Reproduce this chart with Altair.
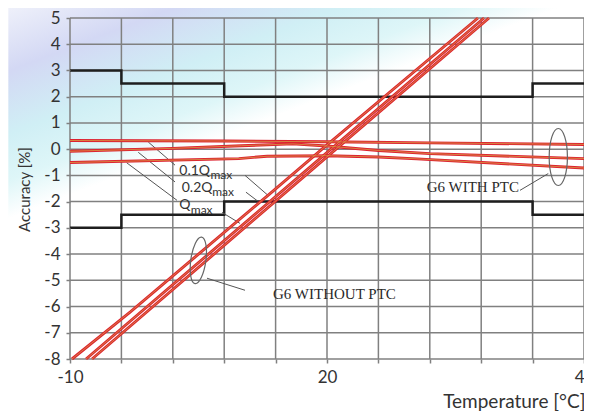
import altair as alt
import pandas as pd

# ---------------- data ----------------
# x axis in °C as labelled; the axis is piecewise: -10..20 over 5 grid cells, 20..40 over 5 cells
x_grid = [-10, -4, 2, 8, 14, 20, 24, 28, 32, 36, 40]
x_labelled = [-10, 20, 40]
y_ticks = list(range(-8, 6))

# maximum permissible error limits (step lines)
limit_x = [-10, -4, 8, 36, 40]
limit_upper = [3, 2.5, 2, 2.5, 2.5]
limit_lower = [-3, -2.5, -2, -2.5, -2.5]

# G6 with PTC
ptc_01_x = [-10, 8, 20, 28, 40]
ptc_01_y = [0.33, 0.31, 0.28, 0.24, 0.18]
ptc_02_x = [-10, 2, 10, 16, 20, 24, 28, 40]
ptc_02_y = [-0.08, 0.03, 0.13, 0.20, 0.12, -0.05, -0.17, -0.36]
ptc_q_x = [-10, 9.7, 13, 20, 24, 27, 40]
ptc_q_y = [-0.51, -0.36, -0.27, -0.25, -0.30, -0.37, -0.72]

# G6 without PTC
nptc_01_x = [-9.77, -2.95, 13.11, 19.42, 31.75]
nptc_01_y = [-8, -6.2, -1.76, 0, 5]
nptc_02_x = [-8.13, 20.31, 32.22]
nptc_02_y = [-8, 0, 5]
nptc_q_x = [-7.43, 20.7, 32.61]
nptc_q_y = [-8, 0, 5]

# flow-rate labels  (main text + subscript)
flow_text = ["0.1Q", "0.2Q", "Q"]
flow_x = [2.76, 3.04, 2.76]
flow_y = [-0.99, -1.62, -2.29]
sub_text = ["max", "max", "max"]
sub_x = [6.4, 6.6, 4.1]
sub_y = [-1.15, -1.79, -2.46]

# leader lines (x, y, x2, y2)
lead_x = [-0.86, -2.03, -3.38, 10.43, 10.54, 7.74, 37.22, 5.99]
lead_y = [0.27, -0.12, -0.52, -1.0, -1.64, -2.41, -0.93, -4.92]
lead_x2 = [2.26, 2.26, 2.49, 13.11, 11.95, 9.84, 35.02, 10.43]
lead_y2 = [-0.61, -1.25, -1.95, -1.76, -1.99, -2.83, -1.57, -5.38]

# ellipses marking the curve groups
ell_x = [38.0, 4.98]
ell_y = [-0.30, -4.24]
ell_size = [3249, 2209]
ell_angle = [0, 8]

group_text = ["G6 WITH PTC", "G6 WITHOUT PTC"]
group_x = [34.94, 13.7]
group_y = [-1.44, -5.53]
group_align = ["right", "left"]

# ---------------- chart ----------------
W, H = 514, 341
LABEL_FONT = "Lato"
TXT = "#333333"
GRID = "#808080"


def frame(name, xs, ys):
    return pd.DataFrame({"series": name, "t": xs, "v": ys, "i": list(range(len(xs)))})


xscale = alt.Scale(domain=[-10, 20, 40], range=[0, W / 2, W], nice=False, zero=False)
yscale = alt.Scale(domain=[-8, 5], nice=False, zero=False)

xaxis = alt.Axis(
    values=x_grid,
    labelExpr="(datum.value == -10 || datum.value == 20 || datum.value == 40) ? '' + datum.value : ''",
    grid=False, domain=False, tickColor=GRID, tickWidth=1.5, tickSize=4,
    labelFont=LABEL_FONT, labelFontSize=17, labelColor=TXT, labelPadding=6,
    labelOverlap=False, labelFlush=False, zindex=1,
    title="Temperature [°C]", titleFont=LABEL_FONT, titleFontSize=19, titleFontWeight="normal",
    titleColor=TXT, titleAnchor="end", titleAlign="right", titleX=W + 1, titleY=42,
    titleBaseline="middle",
)
yaxis = alt.Axis(
    values=y_ticks,
    labelExpr="'' + datum.value",
    grid=False, domain=False, tickColor=GRID, tickWidth=1.5, tickSize=4,
    labelFont=LABEL_FONT, labelFontSize=17, labelColor=TXT, labelPadding=6,
    labelOverlap=False, labelFlush=False, zindex=1,
    title="Accuracy [%]", titleFont=LABEL_FONT, titleFontSize=15, titleFontWeight="normal",
    titleColor=TXT, titleAngle=-90, titleX=-46, titleY=171, titleAlign="center",
    titleBaseline="middle",
)


def X(field="t"):
    return alt.X(f"{field}:Q", scale=xscale, axis=xaxis)


def Y(field="v"):
    return alt.Y(f"{field}:Q", scale=yscale, axis=yaxis)


# soft backdrop of the original picture (spans the plot and the label margin)
bg_grad = {
    "gradient": "linear", "x1": 0, "y1": 0, "x2": 0.27, "y2": 0.43,
    "stops": [
        {"offset": 0.0, "color": "#eef0fa"},
        {"offset": 0.3, "color": "#d3d8f4"},
        {"offset": 0.6, "color": "#d0eff5"},
        {"offset": 0.82, "color": "#def6f8"},
        {"offset": 1.0, "color": "#ffffff"},
    ],
}
bg_df = pd.DataFrame({"t": [-17.2], "t2": [40], "v": [-8], "v2": [5.38]})
bg_layer = alt.Chart(bg_df).mark_rect(color=bg_grad, clip=False).encode(
    x=X(), x2="t2:Q", y=Y(), y2="v2:Q"
)

vgrid = alt.Chart(pd.DataFrame({"t": x_grid})).mark_rule(color=GRID, strokeWidth=1.5).encode(x=X())
hgrid = alt.Chart(pd.DataFrame({"v": y_ticks})).mark_rule(color=GRID, strokeWidth=1.5).encode(y=Y())

limits = pd.concat([frame("upper", limit_x, limit_upper), frame("lower", limit_x, limit_lower)])
limit_layer = alt.Chart(limits).mark_line(
    interpolate="step-after", color="#1e1e1e", strokeWidth=2.5
).encode(x=X(), y=Y(), detail="series:N", order="i:Q")

curves = pd.concat([
    frame("ptc 0.1Qmax", ptc_01_x, ptc_01_y),
    frame("ptc 0.2Qmax", ptc_02_x, ptc_02_y),
    frame("ptc Qmax", ptc_q_x, ptc_q_y),
    frame("no ptc 0.1Qmax", nptc_01_x, nptc_01_y),
    frame("no ptc 0.2Qmax", nptc_02_x, nptc_02_y),
    frame("no ptc Qmax", nptc_q_x, nptc_q_y),
])
red_layer = alt.Chart(curves).mark_line(color="#dd2230", strokeWidth=2.9).encode(
    x=X(), y=Y(), detail="series:N", order="i:Q"
)
core_layer = alt.Chart(curves).mark_line(color="#d6b84a", strokeWidth=0.8, opacity=0.8).encode(
    x=X(), y=Y(), detail="series:N", order="i:Q"
)

leads = pd.DataFrame({"t": lead_x, "v": lead_y, "t2": lead_x2, "v2": lead_y2})
lead_layer = alt.Chart(leads).mark_rule(color="#555555", strokeWidth=1).encode(
    x=X(), y=Y(), x2="t2:Q", y2="v2:Q"
)

ells = pd.DataFrame({"t": ell_x, "v": ell_y, "s": ell_size, "a": ell_angle})
ell_layer = alt.Chart(ells).mark_point(
    shape="M0,-1A0.32,1,0,1,1,0,1A0.32,1,0,1,1,0,-1",
    filled=False, color="#666666", strokeWidth=1.2, opacity=1,
).encode(x=X(), y=Y(), size=alt.Size("s:Q", scale=None, legend=None),
         angle=alt.Angle("a:Q", scale=None))

flows = pd.DataFrame({"t": flow_x, "v": flow_y, "txt": flow_text})
flow_layer = alt.Chart(flows).mark_text(
    align="left", baseline="alphabetic", font=LABEL_FONT, fontSize=14, color=TXT
).encode(x=X(), y=Y(), text="txt:N")

subs = pd.DataFrame({"t": sub_x, "v": sub_y, "txt": sub_text})
sub_layer = alt.Chart(subs).mark_text(
    align="left", baseline="alphabetic", font=LABEL_FONT, fontSize=12, color=TXT
).encode(x=X(), y=Y(), text="txt:N")

groups = pd.DataFrame({"t": group_x, "v": group_y, "txt": group_text, "al": group_align})
group_r = alt.Chart(groups[groups.al == "right"]).mark_text(
    align="right", baseline="middle", font="Liberation Serif", fontSize=15, color="#2a2a2a"
).encode(x=X(), y=Y(), text="txt:N")
group_l = alt.Chart(groups[groups.al == "left"]).mark_text(
    align="left", baseline="middle", font="Liberation Serif", fontSize=15, color="#2a2a2a"
).encode(x=X(), y=Y(), text="txt:N")

chart = alt.layer(
    bg_layer, vgrid, hgrid, limit_layer, lead_layer, red_layer, core_layer, ell_layer,
    flow_layer, sub_layer, group_r, group_l,
).properties(
    width=W, height=H,
    autosize=alt.AutoSizeParams(type="none"),
    padding={"left": 62, "top": 10, "right": 0, "bottom": 52},
    background="white",
).configure_view(
    strokeWidth=0,
)

chart.save("out.html", embed_options={"renderer": "svg", "actions": False})
